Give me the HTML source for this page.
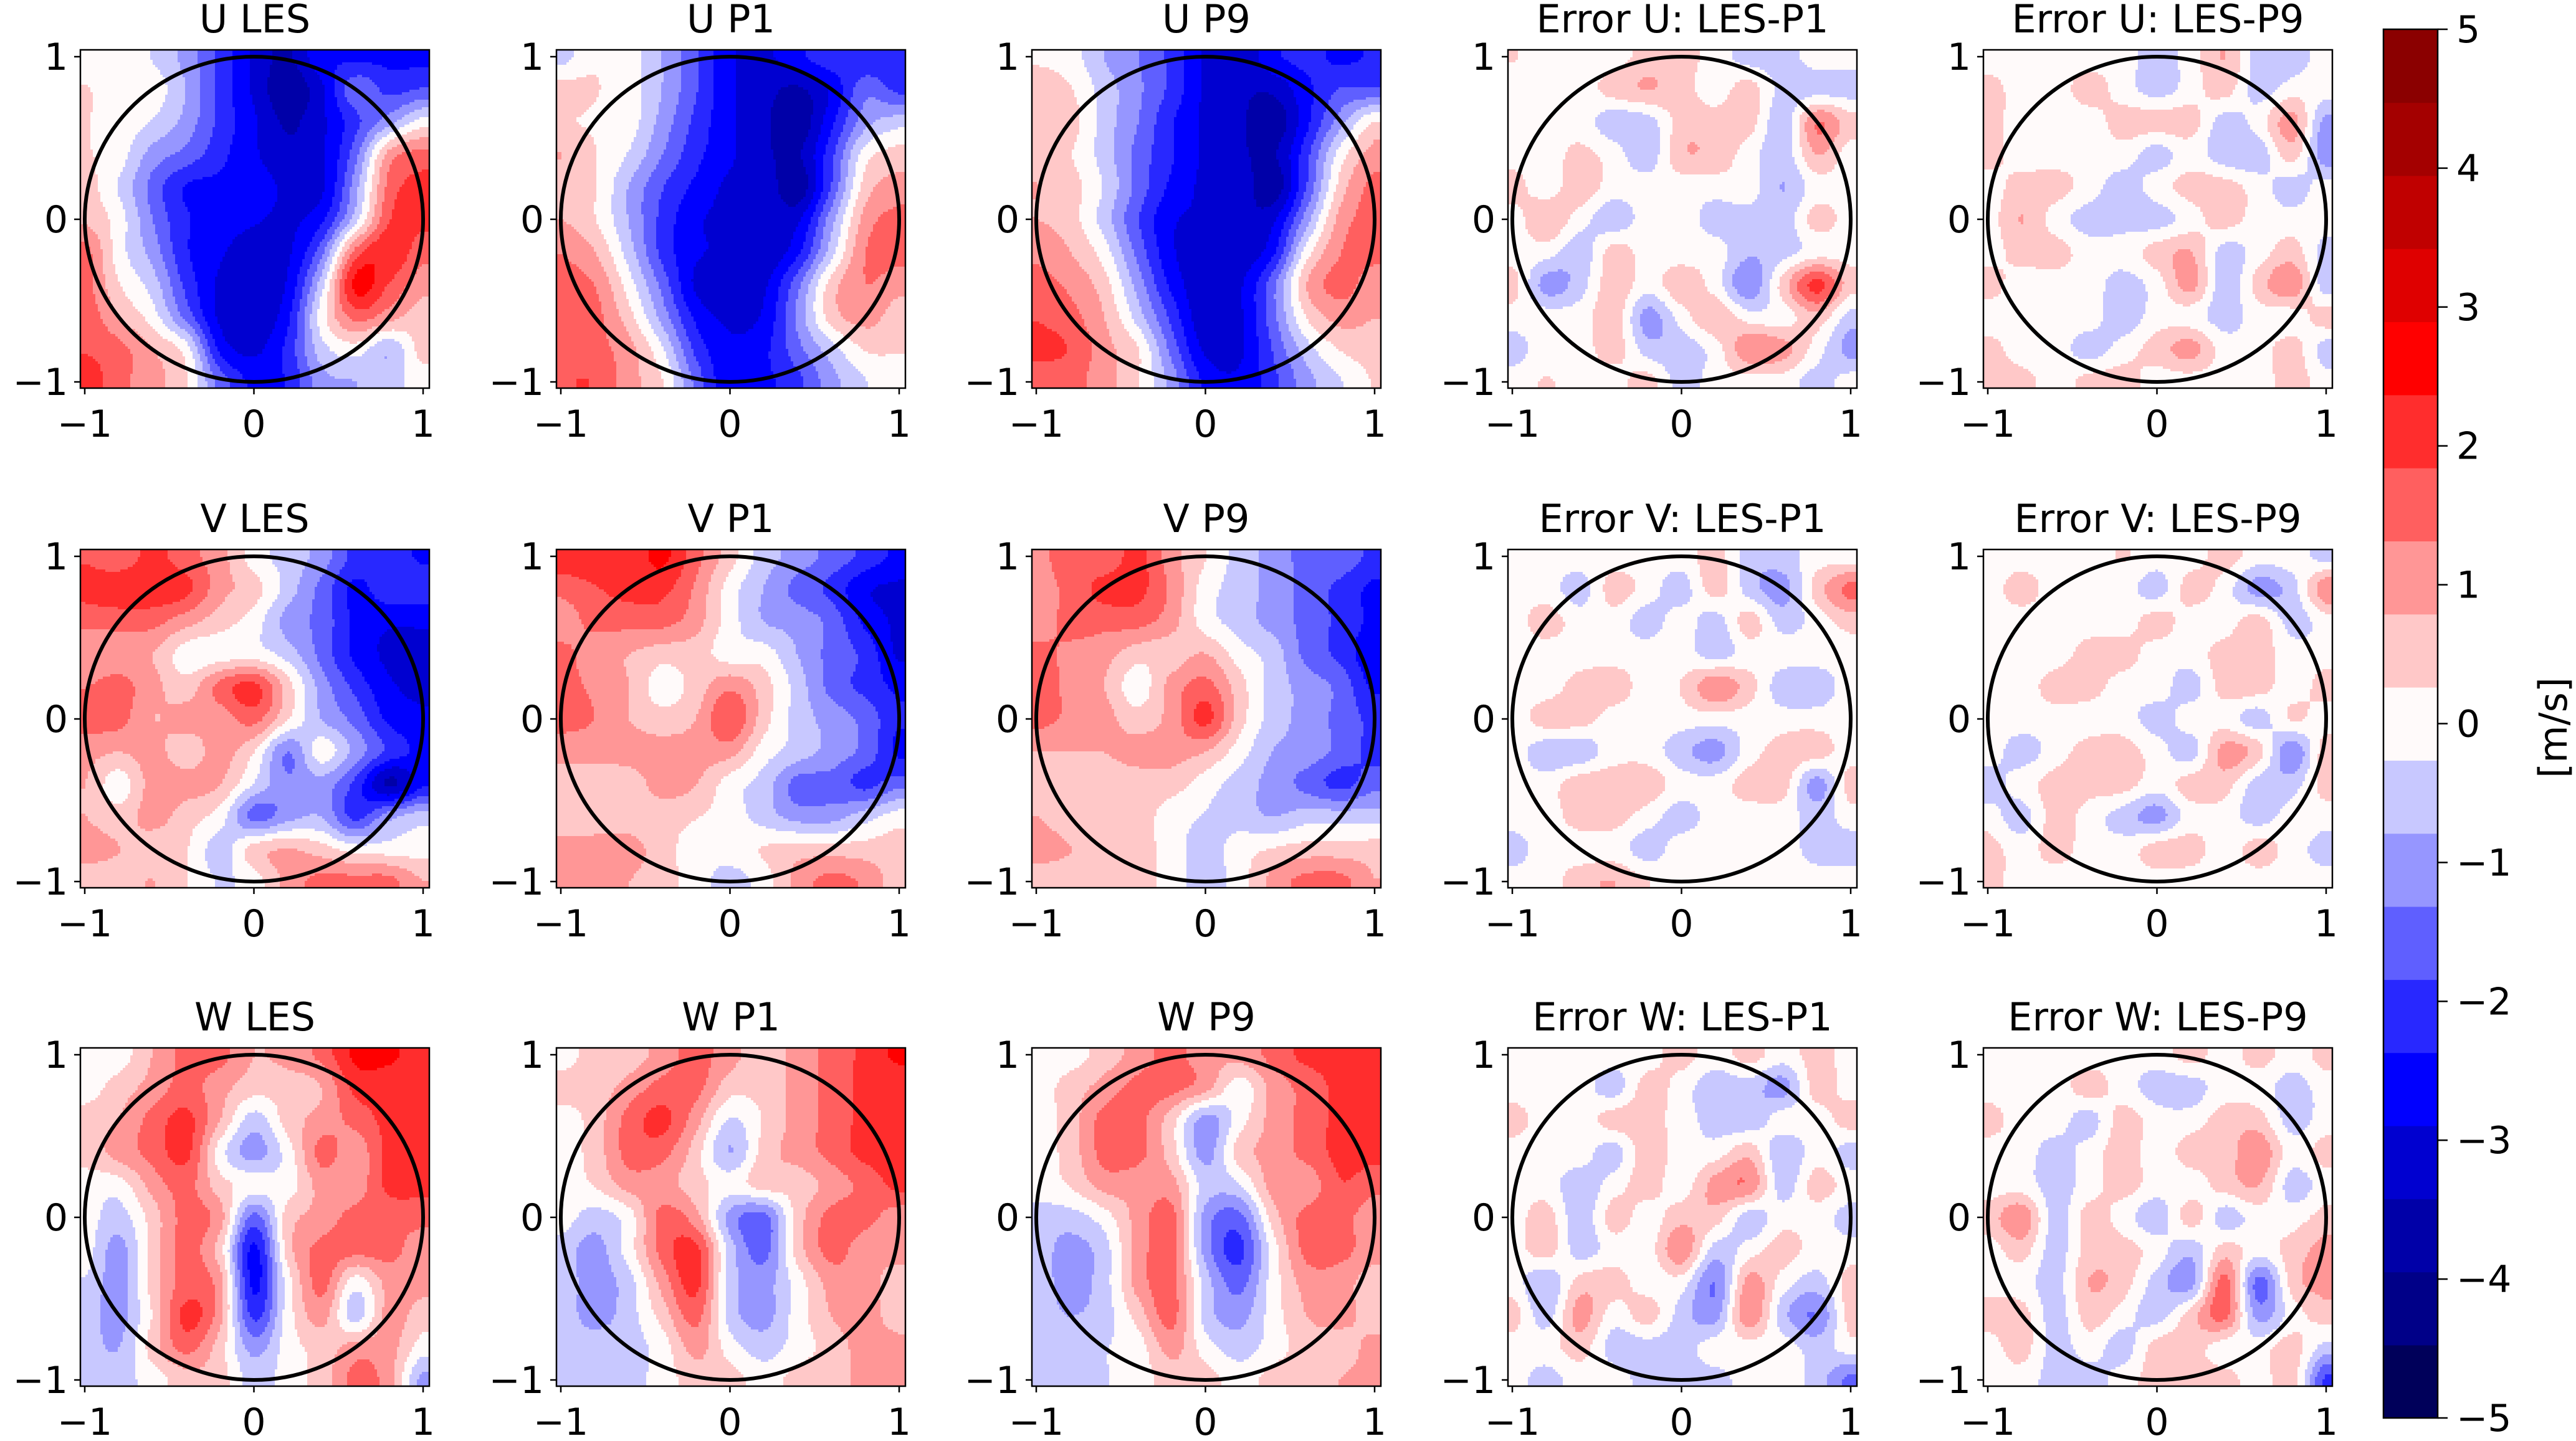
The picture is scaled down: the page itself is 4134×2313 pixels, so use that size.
<!DOCTYPE html>
<html><head><meta charset="utf-8"><style>
html,body{margin:0;padding:0;background:#fff;}
svg{display:block;font-family:"DejaVu Sans","Liberation Sans",sans-serif;}
</style></head><body>
<svg id="fig" xmlns="http://www.w3.org/2000/svg" width="4134" height="2313" viewBox="0 0 4134 2313">
<rect x="0" y="0" width="4134" height="2313" fill="#fff"/>
</svg>
<script>
// ---- data: 11x11 grids, rows y=1..-1, cols x=-1..1 (m/s) ----
const uLES=[[0,0,-0.3,-1,-2,-3,-3.5,-2.5,-2.5,-2.5,-2.5],[0.3,0,0,-0.8,-2,-3,-3.8,-3,-1.5,-2,-1.8],[0.3,0,-0.3,-1,-2,-2.8,-3.5,-3,-2,-1,0],[0.3,0,-1,-1.5,-2.2,-2.8,-3.3,-3,-1.5,1,1.5],[0.5,-0.3,-1.5,-2.4,-2.5,-2.6,-3,-3,-1,1.5,2],[0.7,0,-1.3,-2.3,-2.5,-2.8,-3,-2.5,-0.5,1.8,2],[1.5,0,-1,-2.3,-2.8,-3.3,-3,-1.5,1.5,2.3,1.5],[1.5,0.3,-0.5,-2,-3,-3.3,-2.8,-0.5,2.5,1.8,1],[1.7,0.8,0,-1.5,-3,-3.3,-2.5,0,1.5,1,0.5],[1.8,1.5,0.8,0,-2.5,-3,-2.2,-0.5,0,-0.7,0.5],[2.2,1.5,1,0.3,-1.5,-2.5,-2.3,-1,-0.8,-0.5,0]];
const uP1=[[-0.5,0.2,0,-0.8,-1.8,-2.8,-3,-2.5,-2,-2.3,-2.3],[0.5,0.3,0,-0.8,-1.8,-2.8,-3.2,-3.5,-2.8,-1.5,-2],[0.3,0.2,0,-1,-2,-2.8,-3.3,-3.8,-2.5,-1,-0.5],[0.8,0.3,-0.3,-1.3,-2.2,-2.8,-3.3,-3.5,-2,0,0.5],[0.5,0.3,-0.8,-1.8,-2.5,-3,-3,-3.8,-1.8,0.5,1],[0.8,0.3,-0.8,-2,-2.8,-3,-3,-3,-1,1,1.5],[1.3,0.8,-0.5,-2,-2.8,-3,-3.3,-2.5,-0.5,1.3,1.5],[1.5,1.3,0,-1.5,-3,-3.3,-3,-1.5,0.5,1.3,1],[1.7,1.5,0.5,-1,-2.5,-3,-2.8,-1.2,0.5,1,0.5],[1.7,1.5,1,-0.2,-2,-2.8,-2.5,-1.5,-0.5,0.3,0.3],[1.8,1.8,1,0.3,-1.5,-2.8,-2.5,-2,-1,-0.3,0]];
const uP9=[[0.2,0,-0.8,-1.3,-2,-3,-3.3,-2.5,-2.2,-2.5,-2.3],[0.5,0.3,-0.5,-1.2,-2,-3,-3.3,-3.3,-2.5,-1.8,-1.8],[0.5,0.5,-0.5,-1.3,-2.3,-3,-3.3,-3.8,-2.5,-1,0.3],[0.7,0.3,-0.5,-1.5,-2.3,-3,-3.3,-3.5,-2,0,1],[0.8,0.5,-0.3,-1.5,-2.5,-3,-3,-3.8,-1.8,0.5,1.5],[0.8,0.5,-0.5,-1.8,-2.8,-3,-3.3,-3,-1,1,1.5],[1.2,0.8,0,-1.5,-2.8,-3.3,-3.3,-2.5,0,1.3,1.5],[1.5,1.2,0.5,-1,-2.5,-3.3,-3,-1.5,0.8,1.5,1],[1.8,1.5,0.8,-0.5,-2,-3.3,-3,-1.5,0.3,1,0.8],[2,1.8,1,0.3,-1.5,-3,-3,-1.8,-0.5,0.3,0.5],[1.5,1.5,1,0.3,-1,-2.5,-2.8,-2,-1,-0.3,0.3]];
const vLES=[[1.8,1.5,2,1.5,1,0,-0.5,-1,-2,-2,-2.5],[2,2.2,2.2,2,1,0.5,-0.5,-1.5,-2.5,-2,-2],[1.5,1.5,1.5,1,0.5,0,-1,-1.5,-2.5,-2.8,-2.8],[0.8,1,0.8,0,0,0,-0.5,-1.5,-2.5,-3,-3],[1.3,1.5,1,0.5,1.5,2,0.5,-1,-2,-2.8,-3],[1.5,1.5,0.8,1,1,1.5,0.3,-0.8,-1.5,-2.5,-2.8],[1,0.8,1,0.5,1,0.3,-1.3,0,-1,-2,-2.5],[0.8,0,1,1,0.8,-0.3,-1.2,-1,-2,-3.5,-2.5],[0.8,0.5,1,0.5,0,-1.5,-1,-0.8,-2,-1,-0.5],[1,0.8,0.5,0.3,-0.5,0.5,0.8,0.5,0,0,0],[0.5,0.5,0.8,0.3,-0.3,0,1,1.5,1.5,1.5,0.8]];
const vP1=[[2.2,2.2,2,2.5,1.5,0.5,-0.5,-1,-1.5,-2,-2.5],[1.5,1.8,2,2,1.2,0,-0.8,-1.5,-2,-2.8,-3],[1,1.5,1.5,1.5,1,0,-0.8,-1,-1.5,-2.5,-3],[1.5,1,0.8,0.5,0.5,0,0,-0.8,-1.5,-2,-3],[1.5,1.2,0.8,0,0.5,1.2,0.5,-0.5,-1.5,-2,-2.5],[1.5,1.3,0.8,0.5,0.8,1.8,0.5,-0.5,-1,-1.5,-2.3],[1,1,1,1,1,1,0,-0.5,-1,-1.5,-2.5],[0.5,0.5,0.5,1,0.8,0,-0.5,-1.5,-1.5,-2,-1.5],[0.5,0.5,0.5,0.5,0.3,0,-0.5,-1,-1,-0.5,0],[1,1,1,0.5,0,0,0.3,0.5,0.5,0.5,0.5],[1,1,0.8,0.5,0,-0.5,0,1,1.5,1.2,0.5]];
const vP9=[[1,1.8,1.5,2,1,0.3,-0.5,-1,-1.5,-1.5,-2],[1,1.5,2,2,1.2,0,-0.5,-1,-1.5,-2,-2.5],[1,1.5,1.5,1.5,1,0,-0.5,-1,-1.5,-2,-2.5],[1.5,1.2,1,0.5,0.5,0.8,0,-0.5,-1.5,-2,-2.8],[1.5,1.2,0.8,0,1,1.5,0.5,-0.5,-1,-1.5,-2.5],[1.5,1.2,1,0.5,1,2,0.5,-0.5,-1,-1.5,-2],[0.8,0.8,0.8,1,1,0.8,0,-0.8,-1,-1.5,-2],[0.5,0.5,0.5,0.5,0.5,0,-0.5,-1,-1.5,-2,-1.5],[0.8,0.5,0.5,0.5,0,-0.3,-0.5,-0.8,-0.5,-0.5,-0.5],[1,0.8,0.5,0.5,0,-0.5,0,0.3,0.5,0.5,0.5],[0.5,0.5,0.5,0.5,0,-0.5,0,1,1.5,1.5,0.8]];
const wLES=[[0,0,0.8,1.5,1.5,0.8,1,1.5,2.5,2.5,2],[0,0.5,1,1.5,1,0.5,0.5,0.8,2,2,2],[0.5,0.8,1.5,2,0.8,-0.5,0.5,1,1.5,2,2],[0.5,1,1.5,2,0,-1,0,1.5,1,2,2],[0,0,1,1.5,0.5,0,0,1,1,2,2],[0,-0.5,0.5,1.5,1,-1.5,0.5,1,1.5,1.5,1.5],[0,-1,0.5,1.5,0.5,-2.5,0.5,1.5,1.5,1.5,1],[-0.3,-1,0.5,1.5,1,-2.5,0,1.5,0,1,1],[-0.5,-1,0.3,2,1,-2,0,1,-0.5,1,0.5],[-0.5,-0.8,0.5,1.5,0.5,-1,0,0.5,1,1,0],[-0.5,-0.5,0,0.5,0.5,-0.5,0,0.5,1.5,1,-1]];
const wP1=[[0,0.5,0.5,1,1.5,1,0.5,1,1.5,2,2.5],[0.5,0.5,1,1.5,1.5,0.5,0.5,1,1.5,2,2],[0,0.5,1.5,2,1,-0.3,0.3,1,1.5,2,2],[0,0.5,1.5,1.5,0.5,-0.8,0.5,1,1.5,2,2],[0,0.3,1,1,0.5,0,0.5,0.5,1,1.5,2],[0,-0.5,0,1.5,1,-1,-1.5,0.5,1.5,1.5,1],[-0.5,-1,0,1.5,2,-0.5,-1.5,0.5,1.5,1,1],[-0.5,-1,-0.5,1,2,-0.5,-1,0,1,1,0.5],[-0.5,-1,-0.5,0.5,1.5,-0.5,-1,0,0.8,1,0.5],[-0.5,-0.5,-0.5,0,1,0,-0.5,0,0.5,1,1],[-0.3,-0.5,-0.5,0,0.5,0.5,0,0.5,0.5,1,1]];
const wP9=[[0,0,0.5,1,1.5,1,1,1.5,2,2,2],[0,0.5,1,1.5,1.5,1,0,1,1.5,2,2],[0,0.5,1.5,1.5,0.5,-1,0,1,1.5,2,2],[0,0.5,1.5,1.5,0.5,-1,0.5,1,1.5,2,2],[0,0.3,1,1,1,-0.5,-0.3,1,1,1.8,1.5],[-0.5,-0.5,0,1,1.5,-1,-1.5,0.5,1.5,1.5,1],[-0.5,-1,-0.5,1,1.5,-1,-2,0,1.5,1.5,1],[-0.5,-1,-0.5,1,1.5,-0.5,-1.5,0,1,1,0.5],[-0.5,-0.8,-0.5,0.5,1.5,-0.5,-1,0,0.8,1,0.5],[-0.5,-0.5,-0.3,0,1,0,-0.5,0,0.5,0.5,1],[-0.5,-0.5,-0.3,0,0.5,0.5,0,0.5,0.5,0.8,1]];
const errU1=[[0.3,0,0,0,0.5,0.5,0,-0.5,-0.5,0,0],[0,0,0,0.5,0.8,0.5,0,0.5,-0.5,-0.5,-0.5],[0,0,0,-0.6,-0.5,0.5,0.5,0.5,-0.6,1.3,0.5],[0,0,0.4,0,-0.6,0.7,0.6,0,-0.6,0.8,0],[0.5,0,0.6,0,0,0,0,0,-0.8,0,0],[0,0.7,0,-0.6,0,0,-0.5,-0.5,-0.6,0.5,0],[0,0,-0.6,0.5,0,0,0,-0.7,-0.5,0,0],[0.5,-1,-0.5,0.6,0,0.6,0,-1.2,0.5,2,0.5],[0,0,0,0.6,-1,0,0.7,0,0,0.6,-0.5],[-0.5,0,0,0.5,-0.5,-0.6,0,1.2,1,0,-1],[0,0.3,0,0,0.5,-0.5,0,0,0,-0.5,0]];
const errU9=[[0,0,0,0,0,-0.5,0,0.8,-0.5,-0.6,0],[0.5,0,0,0.5,0,-0.5,0,0.5,-0.5,0,0],[0.5,0,0,0,0.5,0.5,0.5,-0.5,0,1,-1],[0.5,0,0,0,0,-0.5,0,-0.6,-0.6,0.5,-1.2],[0,0.5,0.5,0,-0.5,0,0.5,0.5,0,-0.5,0],[0,0.8,0,-0.5,-0.5,-0.5,0,0.5,0,0,0],[0,0.5,0.5,0,0,0.5,0.8,-0.5,0,0.5,-0.5],[0.5,0,0,0,-0.5,0,1,-0.6,0.5,1.2,-0.6],[0,0,0,0,-0.6,0,0,-0.5,0,0,0.5],[0.5,0,0,-0.5,0,0.5,1,0,0,0.5,-0.5],[0.5,0.5,0,0.5,0.5,0,0,0,0,0.5,0]];
const errV1=[[0,0,0,0,0,0,0.5,-0.5,-0.5,0,0],[0,0,-0.5,0.5,0,-0.5,0.5,-0.5,-1,0.5,1.5],[0,0.5,0,0,-0.5,0,-0.5,0.5,-0.5,0,0.5],[0,0,0,0,0,0,-0.5,0,0,0,0],[0,0,0.5,0.6,0,0.3,1.2,0.5,-0.6,-0.6,0],[0,0.5,0.5,0,0,0,0,0,0,0,0],[0,-0.6,-0.6,0,0,-0.6,-1,0,0.5,0.5,0],[0,0,0.6,0.6,0.6,0,0,0.5,0.5,-1,0.5],[0,0,0.5,0.5,0,-0.5,0,0,0,-0.5,0],[-0.5,0,0,0,-0.5,0,0,0,0,-0.5,-0.5],[0,0,0.6,0.8,0.3,0,0,0,0,0,0]];
const errV9=[[0,0,0,0,0.3,0,0,0.5,0,0,-0.5],[0,0.5,0,0,0,-0.5,0.5,0,-1,-0.5,1.2],[0,0,0,0,0,0.5,0,0,0.5,-0.5,0],[0,0,0,0.5,0.5,0,0,0.5,0.5,0,0],[0,0,0.5,0.5,0,0,-0.5,0.5,0.5,0,0.5],[0,0,0,0,0,-0.5,0,0,-0.5,0.3,0],[0,-0.5,0,0.5,0.5,0,-0.5,1,0.5,-1.2,0.6],[-0.5,0,0.5,0.5,0.5,0,0.5,0.5,-0.5,-0.5,0.5],[0,-0.5,0.5,0,-0.5,-1,0,0,-0.5,0,0],[0.5,0,0.5,0,0,0.5,0.5,0,0.5,0,-0.5],[0.5,0,0,0,0,0,0,0,0,0,0]];
const errW1=[[0,0,0,0,0,0.5,0,0.5,0,0.5,0],[0,0,0,-0.5,0.5,0,-0.6,-0.5,-1,0.5,0],[0.5,0,0,0.5,0.5,0,-0.5,-0.6,0,0,0.5],[0,0,0,-0.5,0.6,0,0,0.6,-0.7,0,-0.5],[0,0,-0.6,0,0.5,0,1,1.2,-0.5,0.5,0],[0,0.5,-0.6,0.5,0,0.6,0.5,-0.5,0,0,-0.5],[0,0.5,-0.5,0,0,1.2,-0.5,0,0.5,0,0],[0,-0.7,0.5,0.5,0,0,-1.3,1,0,-0.5,0.5],[0.5,-0.5,1,0,0.5,-0.5,-1,1.2,-0.6,-1.3,0.5],[0,0,0.5,-0.5,-0.5,-0.5,0,0,0,-0.5,0],[0,-0.5,0,0,-0.5,-0.5,-0.5,0,0,-0.5,-1.5]];
const errW9=[[0,0,0,0,0,0,0.5,0,0.5,0,0.5],[0,0,0,0.5,0,-0.5,-0.5,0,0,-0.5,0],[0.5,0,0,-0.5,0.5,0,0,0.5,0.5,-0.5,0],[0,0,-0.5,0,0.5,0,0.5,0.5,1.2,0,0.5],[0,0,-0.5,0,0.5,0,0,0.5,0.8,-0.5,0],[0.5,1.2,-0.5,0.5,0,-0.6,0.5,-0.5,0,0,0.5],[0,0.5,-0.5,0.5,0.5,0,-0.6,0.5,0,0.5,1],[0,0,-0.5,0.8,0.5,-0.5,-1,1.5,-1.5,0.5,1],[0.5,0.5,-0.5,0.5,0,-0.5,0.5,1.5,-1,0,0.5],[0,0.5,-0.5,0,-0.5,0.5,0.5,0,0,0.5,-0.5],[0,0,-0.5,-0.5,0,0.5,0.5,0.5,0,0.5,-2]];
const panelTitles=[["U LES","U P1","U P9","Error U: LES-P1","Error U: LES-P9"],["V LES","V P1","V P9","Error V: LES-P1","Error V: LES-P9"],["W LES","W P1","W P9","Error W: LES-P1","Error W: LES-P9"]];
const panelData=[[uLES,uP1,uP9,errU1,errU9],[vLES,vP1,vP9,errV1,errV9],[wLES,wP1,wP9,errW1,errW9]];
const axisTicks=[-1,0,1];
const cbTicks=[-5,-4,-3,-2,-1,0,1,2,3,4,5];
const levelColors=["#00005a","#000088","#0000a8","#0000d0","#0000ff","#2828ff","#5f5fff","#9696ff","#c8c8ff","#fffafa","#ffc8c8","#ff9696","#ff5f5f","#ff2d2d","#ff0000","#df0000","#c00000","#a40000","#8b0000"];
const vmin=-5, vmax=5;

const NS="http://www.w3.org/2000/svg";
const svg=document.getElementById('fig');
function mk(tag,attrs,parent){const e=document.createElementNS(NS,tag);for(const k in attrs)e.setAttribute(k,attrs[k]);(parent||svg).appendChild(e);return e;}
const colX=[129,893,1656,2420,3183], rowY=[80,882,1682];
const FW=560, FH=543;
function fmt(v){return v<0?"\u2212"+Math.abs(v):String(v);}
function levelIndex(v){let k=Math.floor((v-vmin)/((vmax-vmin)/levelColors.length));return Math.max(0,Math.min(levelColors.length-1,k));}
function cr(p0,p1,p2,p3,t){return 0.5*((2*p1)+(-p0+p2)*t+(2*p0-5*p1+4*p2-p3)*t*t+(-p0+3*p1-3*p2+p3)*t*t*t);}
function at(g,j,i){j=Math.max(0,Math.min(10,j));i=Math.max(0,Math.min(10,i));return g[j][i];}
function sample(g,xd,yd){
  let gx=(xd+1)/0.2, gy=(1-yd)/0.2;
  gx=Math.max(0,Math.min(10,gx)); gy=Math.max(0,Math.min(10,gy));
  const i0=Math.min(9,Math.floor(gx)), j0=Math.min(9,Math.floor(gy));
  const fx=gx-i0, fy=gy-j0;
  const rows=[];
  for(let dj=-1;dj<=2;dj++){
    const j=j0+dj;
    rows.push(cr(at(g,j,i0-1),at(g,j,i0),at(g,j,i0+1),at(g,j,i0+2),fx));
  }
  return cr(rows[0],rows[1],rows[2],rows[3],fy);
}
for(let r=0;r<3;r++)for(let c=0;c<5;c++){
  const X0=colX[c],Y0=rowY[r];
  const sx=v=>X0+7+(v+1)*271.5;   // x axis function
  const sy=v=>Y0+11+(1-v)*261;    // y axis function
  const g=mk('g',{});
  
  
  const clipId='clip'+r+c;
  const cp=mk('clipPath',{id:clipId},g);mk('rect',{x:X0,y:Y0,width:FW,height:FH},cp);
  const field=mk('g',{'clip-path':'url(#'+clipId+')'},g);
  
  
  const grid=panelData[r][c];
  const dy=4, dx=4;
  for(let py=Y0;py<Y0+FH;py+=dy){
    const yd=1-(py+dy/2-(Y0+11))/261;
    let runStart=X0, runK=null;
    for(let px=X0;px<=X0+FW;px+=dx){
      let k=null;
      if(px<X0+FW){const xd=(px+dx/2-(X0+7))/271.5-1;k=levelIndex(sample(grid,xd,yd));}
      if(k!==runK){
        if(runK!==null){
          const cell=mk('rect',{x:runStart,y:py,width:px-runStart+0.6,height:dy+0.6,fill:levelColors[runK]},field);
          
          
        }
        runStart=px;runK=k;
      }
    }
  }
  const circ=mk('ellipse',{cx:sx(0),cy:sy(0),rx:271.5,ry:261,fill:'none',stroke:'#000','stroke-width':6},g);
  
  
  const fr=mk('rect',{x:X0,y:Y0,width:FW,height:FH,fill:'none',stroke:'#000','stroke-width':2.5},g);
  
  
  for(const t of axisTicks){
    mk('line',{x1:sx(t),x2:sx(t),y1:Y0+FH,y2:Y0+FH+10,stroke:'#000','stroke-width':2.5},g);
    const xl=mk('text',{x:sx(t),y:Y0+FH+78,'font-size':60,'text-anchor':'middle',fill:'#000'},g);
    xl.textContent=fmt(t);
    
    
    mk('line',{x1:X0-10,x2:X0,y1:sy(t),y2:sy(t),stroke:'#000','stroke-width':2.5},g);
    const yl=mk('text',{x:X0-20,y:sy(t)+21,'font-size':60,'text-anchor':'end',fill:'#000'},g);
    yl.textContent=fmt(t);
    
    
  }
  const tt=mk('text',{x:X0+FW/2,y:Y0-28,'font-size':62,'text-anchor':'middle',fill:'#000'},g);
  tt.textContent=panelTitles[r][c];
  
  
}
// colorbar
const cb=mk('g',{});


const CX=3825,CW=87,CT=47,CB=2276;
const cyv=v=>CB-(v-vmin)/(vmax-vmin)*(CB-CT);
const nL=levelColors.length;
for(let k=0;k<nL;k++){
  const lo=vmin+k*(vmax-vmin)/nL, hi=vmin+(k+1)*(vmax-vmin)/nL;
  const band=mk('rect',{x:CX,y:cyv(hi),width:CW,height:cyv(lo)-cyv(hi)+0.8,fill:levelColors[k]},cb);
  
  
}
mk('rect',{x:CX,y:CT,width:CW,height:CB-CT,fill:'none',stroke:'#000','stroke-width':2.5},cb);
for(const t of cbTicks){
  mk('line',{x1:CX+CW,x2:CX+CW+16,y1:cyv(t),y2:cyv(t),stroke:'#000','stroke-width':2.5},cb);
  const l=mk('text',{x:CX+CW+30,y:cyv(t)+21,'font-size':60,fill:'#000'},cb);
  l.textContent=fmt(t);
  
  
}
const cl=mk('text',{x:4102,y:1168,'font-size':62,'text-anchor':'middle',fill:'#000',transform:'rotate(-90 4102 1168)','dominant-baseline':'middle'},cb);
cl.textContent='[m/s]';


</script>
</body></html>
